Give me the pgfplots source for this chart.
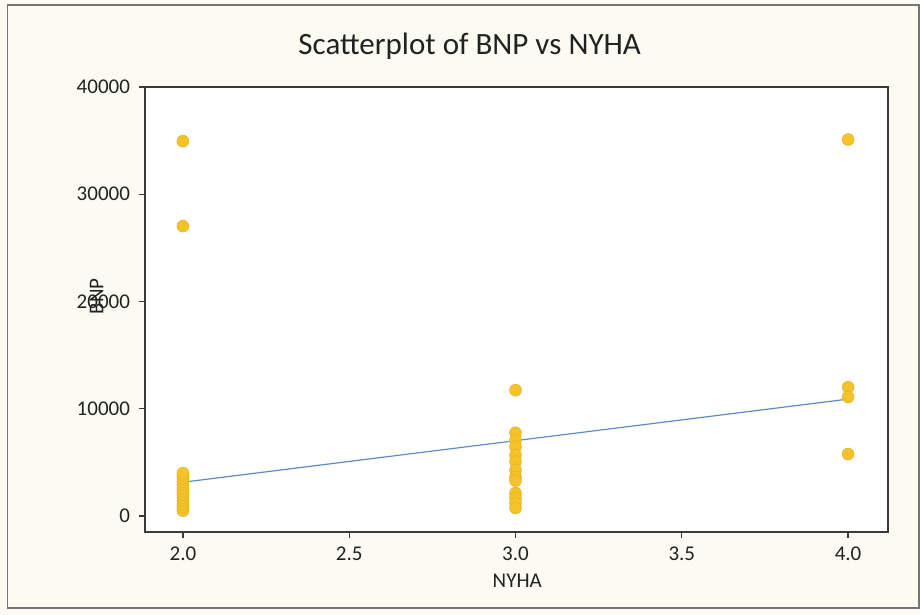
\documentclass[border=0pt]{standalone}
\usepackage{fontspec}
\setmainfont{Carlito}
\usepackage{pgfplots}
\pgfplotsset{compat=1.18}
\definecolor{bgcream}{HTML}{FBFBF2}
\definecolor{ptgold}{HTML}{F6C22A}
\definecolor{fitblue}{HTML}{5E8CC4}
\definecolor{axgray}{HTML}{3A3A3A}
\definecolor{txt}{HTML}{222222}
\begin{document}
\begin{tikzpicture}[x=1pt,y=1pt]
\fill[bgcream] (0,0) rectangle (460,307.5);
\draw[axgray!70, line width=0.8pt] (3.8,3.5) rectangle (459.5,305);
\begin{axis}[
  at={(72.5pt,41.5pt)}, anchor=south west,
  scale only axis, width=371.5pt, height=222.5pt,
  xmin=1.886, xmax=4.12, ymin=-1490, ymax=40000,
  axis background/.style={fill=white},
  axis line style={axgray, line width=0.8pt},
  xtick={2,2.5,3,3.5,4}, ytick={0,10000,20000,30000,40000},
  tick align=outside, xtick pos=bottom, ytick pos=left,
  major tick length=3pt,
  tick style={axgray, line width=0.6pt},
  scaled y ticks=false,
  /pgf/number format/assume math mode=true,
  yticklabel style={/pgf/number format/1000 sep={}, font=\fontsize{10.5}{12}\selectfont, text=txt, xshift=-1pt},
  xticklabel style={/pgf/number format/fixed, /pgf/number format/fixed zerofill, /pgf/number format/precision=1, font=\fontsize{10.5}{12}\selectfont, text=txt, yshift=-1pt},
  title={Scatterplot of BNP vs NYHA},
  title style={at={(rel axis cs:0.437,1.065)}, anchor=center, font=\fontsize{15.5}{18}\selectfont, text=txt},
  xlabel={NYHA},
  xlabel style={at={(rel axis cs:0.501,-0.11)}, anchor=center, font=\fontsize{10.5}{12}\selectfont, text=txt},
  ylabel={BNP},
  ylabel style={at={(rel axis cs:-0.065,0.53)}, anchor=center, rotate=0, font=\fontsize{10.5}{12}\selectfont, text=txt},
]
\addplot[fitblue, line width=0.6pt] coordinates {(2,3150) (4,10900)};
\addplot[only marks, mark=*, mark size=3pt, mark options={fill=ptgold, draw=ptgold!90!black, line width=0.2pt}] coordinates {
(2,34950) (2,27030)
(2,500) (2,800) (2,1100) (2,1400) (2,1700) (2,2000) (2,2300) (2,2600) (2,2900) (2,3200) (2,3500) (2,3800) (2,4000)
(3,11740) (3,7760) (3,7080) (3,6460) (3,5680) (3,5060) (3,4290) (3,3660) (3,3300) (3,2140) (3,1680) (3,1210) (3,750)
(4,35100) (4,12020) (4,11090) (4,5780)
};
\end{axis}
\end{tikzpicture}
\end{document}
